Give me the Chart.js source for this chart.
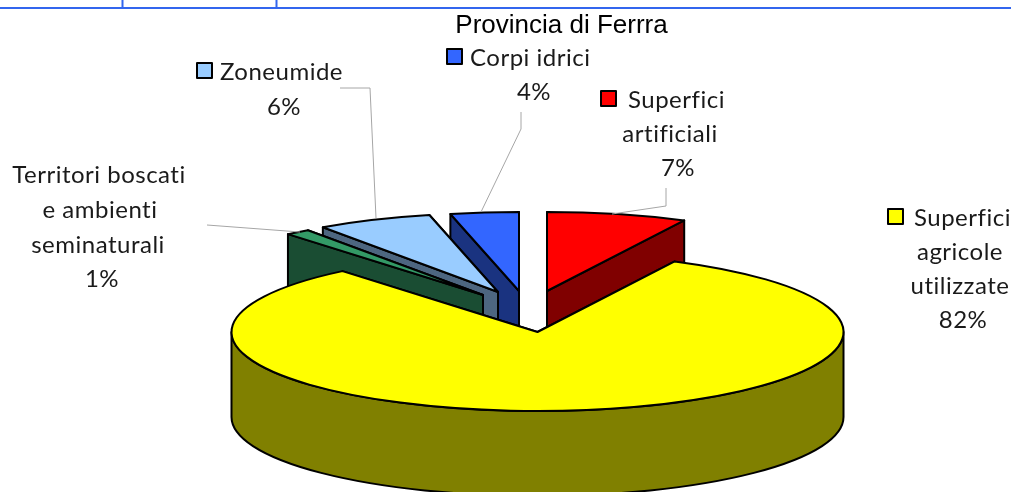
<!DOCTYPE html>
<html>
<head>
<meta charset="utf-8">
<style>
  html, body { margin: 0; padding: 0; background: #fff; }
  #wrap { width: 1011px; height: 492px; overflow: hidden; }
</style>
<script src="https://cdn.jsdelivr.net/npm/chart.js@4/dist/chart.umd.min.js"></script>
</head>
<body>
<div id="wrap"><canvas id="pie3d" width="1011" height="492"></canvas></div>
<script>
const categories = [
  "Superfici artificiali",
  "Superfici agricole utilizzate",
  "Territori boscati e ambienti seminaturali",
  "Zoneumide",
  "Corpi idrici"
];
const sliceValues = [7.4, 81.6, 1.3, 6.1, 3.6];
const topColors = ["#FF0000", "#FFFF00", "#339966", "#99CCFF", "#3366FF"];
const wallColors = ["#800000", "#808000", "#1A4D33", "#4D6680", "#1A3380"];

// fake 3d look, the ellipse and the exploded slices are only styling
const pieCenter = { x: 537.5, y: 332 };
const pieRx = 306;
const pieRy = 79;
const pieDepth = 85;
const explode = [[9.5, -41], [0, 0], [-54.5, -37], [-39.5, -40], [-18.5, -41]];
const drawOrder = [4, 3, 2, 0, 1];

const labelFont = '24px Lato';
const labelBoxes = [
  { key: [601, 91], lines: [["Superfici", 628, 100, "left"], ["artificiali", 670, 134], ["%", 678, 168]] },
  { key: [888, 209], lines: [["Superfici", 914, 218, "left"], ["agricole", 960, 252], ["utilizzate", 960, 286], ["%", 963, 320]] },
  { lines: [["Territori boscati", 99, 175], ["e ambienti", 100, 210], ["seminaturali", 98, 245], ["%", 102, 279]] },
  { key: [197, 63], lines: [["Zoneumide", 220, 72, "left"], ["%", 284, 107]] },
  { key: [447, 49], lines: [["Corpi idrici", 470, 58, "left"], ["%", 534, 92]] }
];
const leaders = [
  [[666, 188], [666, 206], [612, 214]],
  [[207, 225], [300, 232]],
  [[340, 88], [370, 88], [376, 218]],
  [[521, 112], [521, 129], [481, 212]]
];

function rim (i, angle) {
  return {
    x: pieCenter.x + explode[i][0] + pieRx * Math.cos(angle),
    y: pieCenter.y + explode[i][1] + pieRy * Math.sin(angle)
  };
}

function drawFace (ctx, i, angle) {
  const ox = pieCenter.x + explode[i][0];
  const oy = pieCenter.y + explode[i][1];
  const p = rim(i, angle);
  ctx.beginPath();
  ctx.moveTo(ox, oy);
  ctx.lineTo(p.x, p.y);
  ctx.lineTo(p.x, p.y + pieDepth);
  ctx.lineTo(ox, oy + pieDepth);
  ctx.closePath();
  ctx.fill();
  ctx.stroke();
}

function drawSlice (ctx, arc, i) {
  const a0 = arc.startAngle;
  const a1 = arc.endAngle;
  const ox = pieCenter.x + explode[i][0];
  const oy = pieCenter.y + explode[i][1];

  ctx.strokeStyle = "#000";
  ctx.lineWidth = 2;
  ctx.lineJoin = "round";
  ctx.fillStyle = wallColors[i];

  // the face nearest to the vertical goes first, it is the hidden one
  const first = Math.abs(Math.cos(a0)) < Math.abs(Math.cos(a1)) ? a0 : a1;
  const second = first === a0 ? a1 : a0;
  drawFace(ctx, i, first);
  drawFace(ctx, i, second);

  // outer wall, front half only
  const from = Math.max(a0, 0);
  const to = Math.min(a1, Math.PI);
  if (to > from) {
    ctx.beginPath();
    ctx.ellipse(ox, oy, pieRx, pieRy, 0, from, to);
    ctx.ellipse(ox, oy + pieDepth, pieRx, pieRy, 0, to, from, true);
    ctx.closePath();
    ctx.fill();
    ctx.stroke();
  }

  ctx.fillStyle = topColors[i];
  ctx.beginPath();
  ctx.moveTo(ox, oy);
  ctx.ellipse(ox, oy, pieRx, pieRy, 0, a0, a1);
  ctx.closePath();
  ctx.fill();
  ctx.stroke();
}

function drawLabels (ctx) {
  const total = sliceValues.reduce((a, b) => a + b, 0);
  ctx.strokeStyle = "#A6A6A6";
  ctx.lineWidth = 1;
  leaders.forEach((pts) => {
    ctx.beginPath();
    pts.forEach((p, n) => (n ? ctx.lineTo(p[0], p[1]) : ctx.moveTo(p[0], p[1])));
    ctx.stroke();
  });

  ctx.font = labelFont;
  ctx.letterSpacing = "0.5px";
  ctx.textBaseline = "middle";
  labelBoxes.forEach((box, i) => {
    if (box.key) {
      ctx.fillStyle = topColors[i];
      ctx.strokeStyle = "#000";
      ctx.lineWidth = 2;
      ctx.fillRect(box.key[0], box.key[1], 15, 15);
      ctx.strokeRect(box.key[0], box.key[1], 15, 15);
    }
    ctx.fillStyle = "#1A1A1A";
    box.lines.forEach((line) => {
      const text = line[0] === "%" ? Math.round(sliceValues[i] / total * 100) + "%" : line[0];
      ctx.textAlign = line[3] || "center";
      ctx.fillText(text, line[1], line[2]);
    });
  });
  ctx.letterSpacing = "0px";
}

const pie3dPlugin = {
  id: "pie3d",
  beforeDatasetDraw (chart) {
    const ctx = chart.ctx;
    const arcs = chart.getDatasetMeta(0).data;
    ctx.save();
    // table rule left above the chart
    ctx.strokeStyle = "#3366EE";
    ctx.lineWidth = 2;
    ctx.beginPath();
    ctx.moveTo(0, 8);
    ctx.lineTo(1011, 8);
    ctx.moveTo(122.5, 0);
    ctx.lineTo(122.5, 7);
    ctx.moveTo(276.5, 0);
    ctx.lineTo(276.5, 7);
    ctx.stroke();
    drawOrder.forEach((i) => drawSlice(ctx, arcs[i], i));
    drawLabels(ctx);
    ctx.restore();
    return false;
  }
};

new Chart(document.getElementById("pie3d").getContext("2d"), {
  type: "pie",
  data: {
    labels: categories,
    datasets: [{ data: sliceValues, backgroundColor: topColors }]
  },
  options: {
    responsive: false,
    animation: false,
    layout: { padding: { left: 112 } },
    plugins: {
      legend: { display: false },
      tooltip: { enabled: false },
      title: {
        display: true,
        text: "Provincia di Ferrra",
        color: "#000",
        font: { family: "'Liberation Sans'", size: 26, weight: "normal" },
        padding: { top: 10, bottom: 4 }
      }
    }
  },
  plugins: [pie3dPlugin]
});
</script>
</body>
</html>
